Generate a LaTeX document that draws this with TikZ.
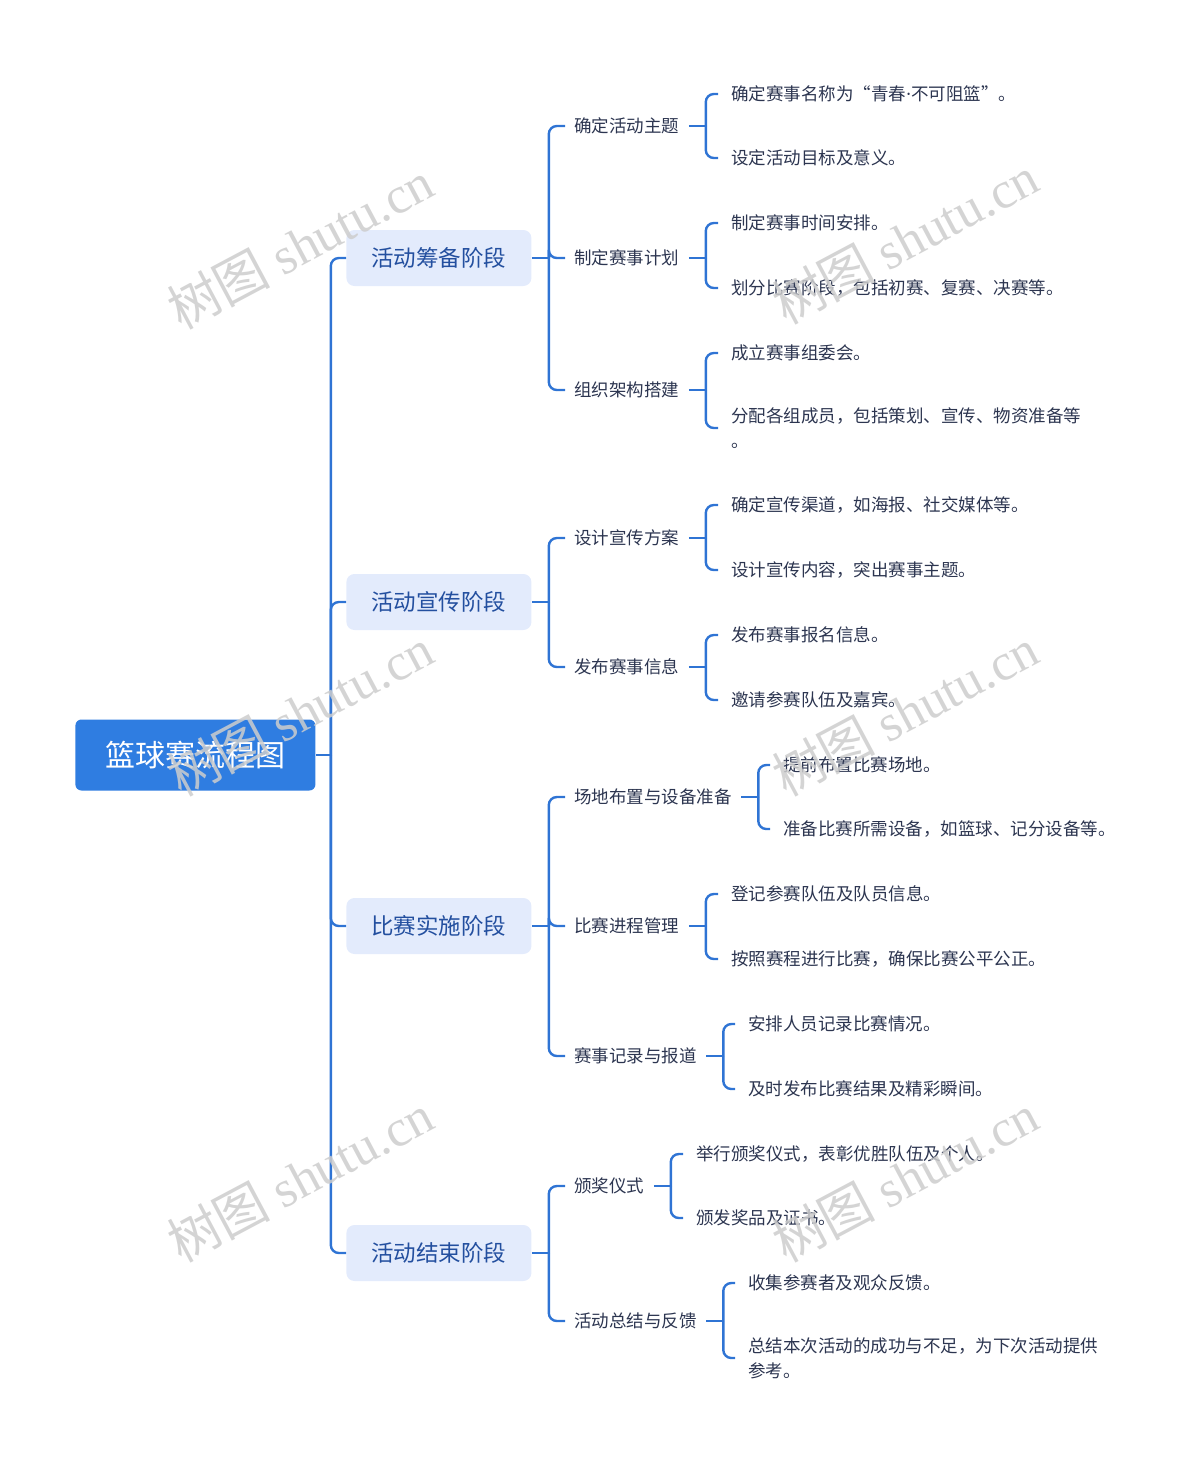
\documentclass[tikz,border=0pt]{standalone}
\usepackage{fontspec}
\setmainfont{Noto Sans CJK SC}
\newfontfamily\wmlatin{Liberation Serif}
\newfontfamily\latinsans{Noto Sans}
\usepackage{xcolor}
\usepackage{tikz}
\usetikzlibrary{positioning,calc}

\definecolor{linkblue}{HTML}{2F74D4}
\definecolor{rootblue}{HTML}{2F7DE1}
\definecolor{stagefill}{HTML}{E3EBFC}
\definecolor{stagetext}{HTML}{234F9F}
\definecolor{bodytext}{HTML}{2C3550}
\definecolor{wmgray}{HTML}{CDCDCD}

\tikzset{
    root/.style={draw=none, fill=rootblue, text=white, rounded corners=3pt, anchor=west,
        minimum width=120pt, minimum height=35.5pt, font=\fontsize{15}{18}\selectfont},
    stage/.style={draw=none, fill=stagefill, text=stagetext, rounded corners=4pt, anchor=west,
        minimum width=92.5pt, minimum height=28pt, font=\fontsize{11.25}{14}\selectfont},
    topic/.style={anchor=west, text=bodytext, inner xsep=4.5pt, inner ysep=2pt,
        font=\fontsize{8.75}{12.5}\selectfont},
    leaf/.style={anchor=west, text=bodytext, inner xsep=6.5pt, inner ysep=2pt, align=left,
        font=\fontsize{8.75}{12.5}\selectfont},
    link/.style={draw=linkblue, line width=1.2pt},
    branch/.style={link, rounded corners=4pt},
    wm/.style={text=wmgray, text opacity=0.85, rotate=28, font=\fontsize{26}{30}\selectfont}
}

\begin{document}
\begin{tikzpicture}[x=0.5pt,y=-0.5pt]
    \useasboundingbox (0,0) rectangle (1200,1464);

    % Root
    \node[root] (root) at (75,755) {篮球赛流程图};

    % Stages
    \node[stage] (s1) at (346,258) {活动筹备阶段};
    \node[stage] (s2) at (346,602) {活动宣传阶段};
    \node[stage] (s3) at (346,926) {比赛实施阶段};
    \node[stage] (s4) at (346,1253) {活动结束阶段};

    % Topics
    \node[topic] (t11) at (565,126) {确定活动主题};
    \node[topic] (t12) at (565,258) {制定赛事计划};
    \node[topic] (t13) at (565,390) {组织架构搭建};
    \node[topic] (t21) at (565,538) {设计宣传方案};
    \node[topic] (t22) at (565,667) {发布赛事信息};
    \node[topic] (t31) at (565,797) {场地布置与设备准备};
    \node[topic] (t32) at (565,926) {比赛进程管理};
    \node[topic] (t33) at (565,1056) {赛事记录与报道};
    \node[topic] (t41) at (565,1186) {颁奖仪式};
    \node[topic] (t42) at (565,1321) {活动总结与反馈};

    % Leaves
    \node[leaf] (l111) at (718,94) {确定赛事名称为“青春{\latinsans ·}不可阻篮”。};
    \node[leaf] (l112) at (718,158) {设定活动目标及意义。};
    \node[leaf] (l121) at (718,223) {制定赛事时间安排。};
    \node[leaf] (l122) at (718,288) {划分比赛阶段，包括初赛、复赛、决赛等。};
    \node[leaf] (l131) at (718,353) {成立赛事组委会。};
    \node[leaf] (l132) at (718,428) {分配各组成员，包括策划、宣传、物资准备等\\。};
    \node[leaf] (l211) at (718,505) {确定宣传渠道，如海报、社交媒体等。};
    \node[leaf] (l212) at (718,570) {设计宣传内容，突出赛事主题。};
    \node[leaf] (l221) at (718,635) {发布赛事报名信息。};
    \node[leaf] (l222) at (718,700) {邀请参赛队伍及嘉宾。};
    \node[leaf] (l311) at (770,765) {提前布置比赛场地。};
    \node[leaf] (l312) at (770,829) {准备比赛所需设备，如篮球、记分设备等。};
    \node[leaf] (l321) at (718,894) {登记参赛队伍及队员信息。};
    \node[leaf] (l322) at (718,959) {按照赛程进行比赛，确保比赛公平公正。};
    \node[leaf] (l331) at (735,1024) {安排人员记录比赛情况。};
    \node[leaf] (l332) at (735,1089) {及时发布比赛结果及精彩瞬间。};
    \node[leaf] (l411) at (683,1154) {举行颁奖仪式，表彰优胜队伍及个人。};
    \node[leaf] (l412) at (683,1218) {颁发奖品及证书。};
    \node[leaf] (l421) at (735,1283) {收集参赛者及观众反馈。};
    \node[leaf] (l422) at (735,1358) {总结本次活动的成功与不足，为下次活动提供\\参考。};

    % Connectors: straight stub, then rounded branch to each child
    \draw[link] (root.east) -- ++(15,0) coordinate (jr);
    \foreach \s in {s1,s2,s3,s4}
        \draw[branch] (jr) |- (\s.west);
    \foreach \s in {s1,s2,s3,s4}
        \draw[link] (\s.east) -- ++(17,0) coordinate (j\s);
    \foreach \s/\t in {s1/t11,s1/t12,s1/t13,s2/t21,s2/t22,s3/t31,s3/t32,s3/t33,s4/t41,s4/t42}
        \draw[branch] (j\s) |- (\t.west);
    \foreach \k in {11,12,13,21,22,31,32,33,41,42}{
        \draw[link] (t\k.east) -- ++(17,0) coordinate (jt\k);
        \draw[branch] (jt\k) |- (l\k1.west);
        \draw[branch] (jt\k) |- (l\k2.west);
    }

    % Watermarks
    \foreach \n/\x/\y in {1/300/245,2/905/240,3/300/712,4/905/712,5/300/1178,6/905/1178}
        \node[wm] (wm\n) at (\x,\y) {树图 {\wmlatin shutu.cn}};
\end{tikzpicture}
\end{document}
